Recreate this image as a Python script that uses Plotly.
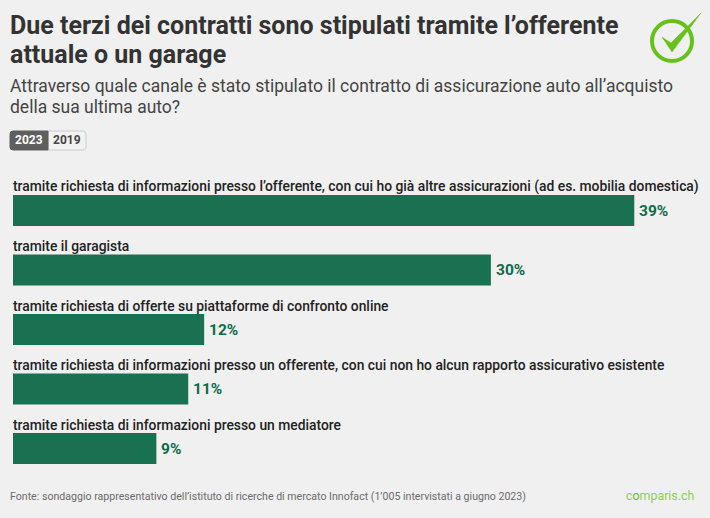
import plotly.graph_objects as go

categories = [
    "tramite richiesta di informazioni presso l’offerente, con cui ho già altre assicurazioni (ad es. mobilia domestica)",
    "tramite il garagista",
    "tramite richiesta di offerte su piattaforme di confronto online",
    "tramite richiesta di informazioni presso un offerente, con cui non ho alcun rapporto assicurativo esistente",
    "tramite richiesta di informazioni presso un mediatore",
]
values_2023 = [39, 30, 12, 11, 9]

title_lines = [
    "Due terzi dei contratti sono stipulati tramite l’offerente",
    "attuale o un garage",
]
subtitle_lines = [
    "Attraverso quale canale è stato stipulato il contratto di assicurazione auto all’acquisto",
    "della sua ultima auto?",
]
source = "Fonte: sondaggio rappresentativo dell’istituto di ricerche di mercato Innofact (1’005 intervistati a giugno 2023)"

W, H = 710, 518
FONT = "Roboto"
GREEN = "#1a7152"
LOGO = "#66c21a"


def px(x, y):
    return x / W, 1 - y / H


def text(x, y, s, size, color, weight=400, anchor="left"):
    fx, fy = px(x, y)
    return dict(
        x=fx, y=fy, xref="paper", yref="paper", text=s, showarrow=False,
        xanchor=anchor, yanchor="middle", align="left", xshift=-2 if anchor == "left" else 0,
        font=dict(family=FONT, size=size, color=color, weight=weight),
    )


def rect_path(x0, y0, x1, y1, left=0, right=0):
    # rounded corners only on the requested side
    a0, b0 = px(x0, y0)
    a1, b1 = px(x1, y1)
    rx, ry = 3 / W, 3 / H
    p = f"M {a0 + rx * left} {b0} L {a1 - rx * right} {b0} "
    p += f"Q {a1} {b0} {a1} {b0 - ry * right} L {a1} {b1 + ry * right} "
    p += f"Q {a1} {b1} {a1 - rx * right} {b1} L {a0 + rx * left} {b1} "
    p += f"Q {a0} {b1} {a0} {b1 + ry * left} L {a0} {b0 - ry * left} "
    p += f"Q {a0} {b0} {a0 + rx * left} {b0} Z"
    return p


fig = go.Figure(
    go.Bar(
        x=values_2023,
        y=categories,
        orientation="h",
        marker=dict(color=GREEN, line=dict(width=0)),
        hoverinfo="skip",
    )
)

annotations = []
for i, line in enumerate(title_lines):
    annotations.append(text(10, 25 + i * 29, line, 25, "#333333", 700))
for i, line in enumerate(subtitle_lines):
    annotations.append(text(10, 86 + i * 21, line, 17.5, "#444444"))
annotations.append(text(29, 140, "2023", 12, "#ffffff", 700, "center"))
annotations.append(text(67, 140, "2019", 12, "#444444", 700, "center"))
annotations.append(text(10, 496, source, 10.6, "#6b6b6b"))
annotations.append(text(626, 495, "c<span style='color:#66c21a'>o</span>mparis.ch", 12.4, "#8fd14f"))
for c, v in zip(categories, values_2023):
    annotations.append(dict(
        x=0, y=c, xref="x", yref="y", text=c, showarrow=False,
        xanchor="left", yanchor="middle", yshift=24, xshift=-2,
        font=dict(family=FONT, size=13.85, color="#222222", weight=500),
    ))
    annotations.append(dict(
        x=v, y=c, xref="x", yref="y", text=f"{v}%", showarrow=False,
        xanchor="left", yanchor="middle", xshift=3, yshift=0,
        font=dict(family=FONT, size=15.5, color="#0e6a49", weight=700),
    ))

cx0, cy1 = px(652, 61)
cx1, cy0 = px(692, 21)
check = [px(662, 37), px(671, 43), px(701, 13), px(672, 52)]
check_path = "M " + " L ".join(f"{a} {b}" for a, b in check) + " Z"

shapes = [
    dict(type="path", xref="paper", yref="paper", path=rect_path(48, 131, 86, 150, right=1),
         fillcolor="#f2f2f2", line=dict(color="#cccccc", width=1)),
    dict(type="path", xref="paper", yref="paper", path=rect_path(10, 131, 48, 150, left=1),
         fillcolor="#5f5f5f", line=dict(color="#5f5f5f", width=1)),
    dict(type="circle", xref="paper", yref="paper", x0=cx0, y0=cy0, x1=cx1, y1=cy1,
         fillcolor="rgba(0,0,0,0)", line=dict(color=LOGO, width=4)),
    dict(type="path", xref="paper", yref="paper", path=check_path,
         fillcolor=LOGO, line=dict(color=LOGO, width=0.5)),
]

fig.update_layout(
    width=W,
    height=H,
    margin=dict(l=0, r=0, t=0, b=0),
    paper_bgcolor="#f0f0f0",
    plot_bgcolor="#f0f0f0",
    showlegend=False,
    bargap=0.479,
    xaxis=dict(domain=[13 / W, 1], range=[0, (W - 13) / 15.93], visible=False),
    yaxis=dict(
        domain=[0, 1], range=[(H - 210.5) / 59.5, -210.5 / 59.5],
        type="category", categoryorder="array", categoryarray=categories, visible=False,
    ),
    annotations=annotations,
    shapes=shapes,
)

fig.write_html(
    "out.html",
    config=dict(displayModeBar=False),
    post_script="document.body.style.margin='0';",
)
